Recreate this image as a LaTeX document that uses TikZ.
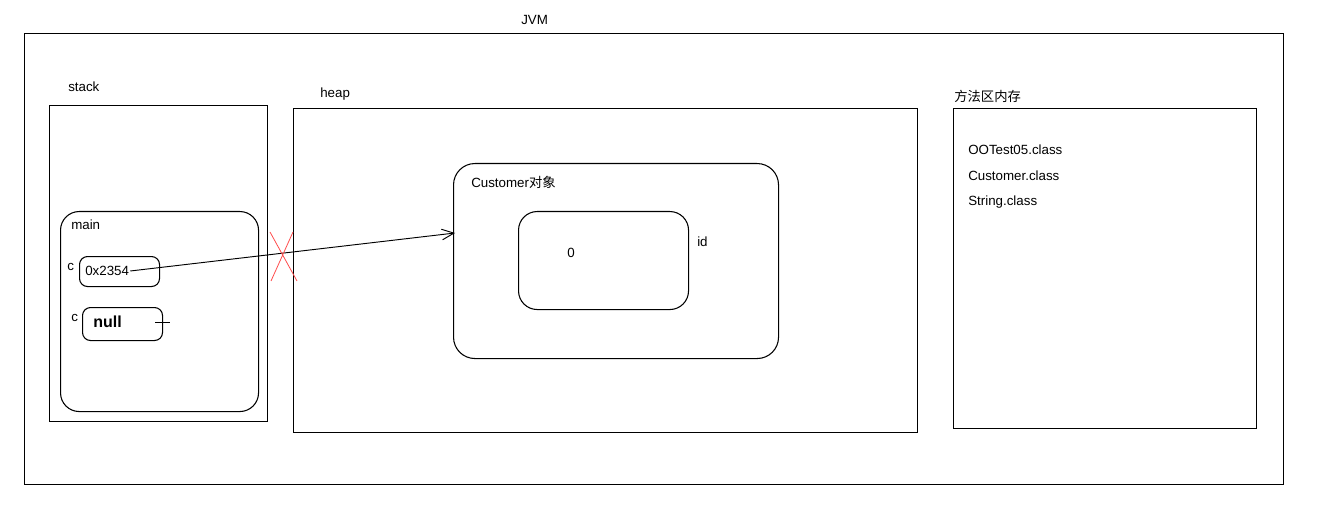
\documentclass[tikz,border=0pt]{standalone}
\usepackage{fontspec}
\setmainfont{Liberation Sans}
\newfontfamily\cjk{Noto Sans CJK SC}
\usetikzlibrary{arrows.meta}
\begin{document}
\begin{tikzpicture}[x=0.75pt,y=0.75pt,yscale=-1,xscale=1,
  box/.style={draw,line width=0.8pt,anchor=north west,inner sep=0pt},
  rbox/.style={box,rounded corners=14pt},
  lbl/.style={anchor=west,inner sep=0.75pt,font=\fontsize{10}{12}\selectfont}]
\useasboundingbox (0,0) rectangle (1317,524);

%Shapes
\node [box,minimum width=0.75*1259pt,minimum height=0.75*451pt] (jvm) at (24,33) {};
\node [box,minimum width=0.75*218pt,minimum height=0.75*316pt] (stack) at (49,105) {};
\node [rbox,minimum width=0.75*198pt,minimum height=0.75*200pt] (main) at (60,211) {};
\node [rbox,rounded corners=6pt,minimum width=0.75*80pt,minimum height=0.75*30pt] (val) at (79,256) {};
\node [rbox,rounded corners=6pt,minimum width=0.75*80pt,minimum height=0.75*33pt] (nul) at (82,307) {};
\node [box,minimum width=0.75*624pt,minimum height=0.75*324pt] (heap) at (293,108) {};
\node [rbox,rounded corners=16pt,minimum width=0.75*325pt,minimum height=0.75*195pt] (cust) at (453,163) {};
\node [rbox,rounded corners=14pt,minimum width=0.75*170pt,minimum height=0.75*98pt] (idbox) at (518,211) {};
\node [box,minimum width=0.75*303pt,minimum height=0.75*320pt] (meth) at (953,108) {};

% Text Node
\node [lbl] (tjvm) at (520,20) {JVM};
\node [lbl] (tstack) at (67,87) {stack};
\node [lbl] (tmain) at (70,225) {main};
\node [lbl] (c1) at (66,267) {c};
\node [lbl] (tval) at (84,271) {0x2354};
\node [lbl] (c2) at (70,318) {c};
\node [lbl,font=\fontsize{12}{14}\selectfont\bfseries] (tnul) at (92,322) {null};
\node [lbl] (theap) at (319,94) {heap};
\node [lbl] (tcust) at (470,182) {Customer{\cjk 对象}};
\node [lbl] (tzero) at (566,253) {0};
\node [lbl] (tid) at (696,242) {id};
\node [lbl,font=\fontsize{10}{12}\selectfont\cjk] (tmeth) at (953,96) {方法区内存};
\node [lbl] (m1) at (967,150) {OOTest05.class};
\node [lbl] (m2) at (967,176) {Customer.class};
\node [lbl] (m3) at (967,202) {String.class};

%Connectors
\coordinate (tick) at (170,322);
\draw (155,322) -- (tick);
\coordinate (tip) at (455,233);
\draw [line width=0.7pt,-{Straight Barb[length=9pt,width=8pt]}] (tval.east) -- (tip);
\draw [red!70,line width=0.6pt] (270,232) -- (297,281) (293,232) -- (271,281);
\end{tikzpicture}
\end{document}
